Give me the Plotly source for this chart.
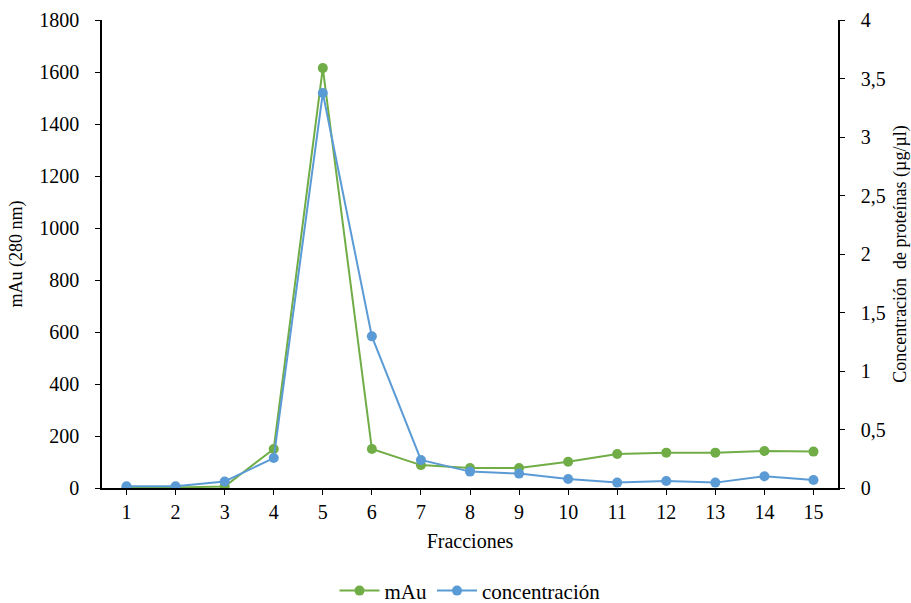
import plotly.graph_objects as go

fracciones = list(range(1, 16))
mau = [3, 2, 6, 150, 1615, 150, 88, 77, 77, 101, 131, 136, 136, 142, 140]
concentracion = [0.014, 0.014, 0.056, 0.256, 3.376, 1.296, 0.24, 0.14, 0.123, 0.077, 0.046, 0.06, 0.046, 0.1, 0.068]

left_ticks = [0, 200, 400, 600, 800, 1000, 1200, 1400, 1600, 1800]
right_ticks = [0, 0.5, 1, 1.5, 2, 2.5, 3, 3.5, 4]

green = "#70AD47"
blue = "#5B9BD5"
font = "Times New Roman, Liberation Serif, serif"

fig = go.Figure()
fig.add_trace(go.Scatter(x=fracciones, y=mau, name="mAu", mode="lines+markers",
                         line=dict(color=green, width=2), marker=dict(color=green, size=10)))
fig.add_trace(go.Scatter(x=fracciones, y=concentracion, name="concentración", mode="lines+markers",
                         yaxis="y2", line=dict(color=blue, width=2), marker=dict(color=blue, size=10)))

def axis_common(standoff):
    return dict(showgrid=False, zeroline=False, showline=True, linecolor="black", linewidth=1.5,
                ticks="outside", ticklen=5, tickcolor="black", automargin=False,
                ticklabelstandoff=standoff,
                tickfont=dict(family=font, size=20, color="black"))

fig.update_layout(
    width=911, height=603,
    margin=dict(l=102, r=73, t=20, b=115, autoexpand=False),
    paper_bgcolor="white", plot_bgcolor="white",
    separators=", ",
    font=dict(family=font, size=20, color="black"),
    xaxis=dict(range=[0.5, 15.5], tickvals=fracciones,
               title=dict(text="Fracciones", standoff=12, font=dict(family=font, size=20)), **axis_common(0)),
    yaxis=dict(range=[0, 1800], tickvals=left_ticks,
               title=dict(text="mAu (280 nm)", standoff=12, font=dict(family=font, size=18)), **axis_common(12)),
    yaxis2=dict(range=[0, 4], tickvals=right_ticks, overlaying="y", side="right",
                title=dict(text="Concentración  de proteínas (µg/µl)", standoff=12, font=dict(family=font, size=18)),
                **axis_common(12)),
    legend=dict(orientation="h", x=0.5, xanchor="center", y=-0.22, yanchor="middle",
                font=dict(family=font, size=21), itemwidth=40),
    showlegend=True,
)

fig.write_html("out.html", config={"displayModeBar": False},
               post_script="document.body.style.margin='0';")
